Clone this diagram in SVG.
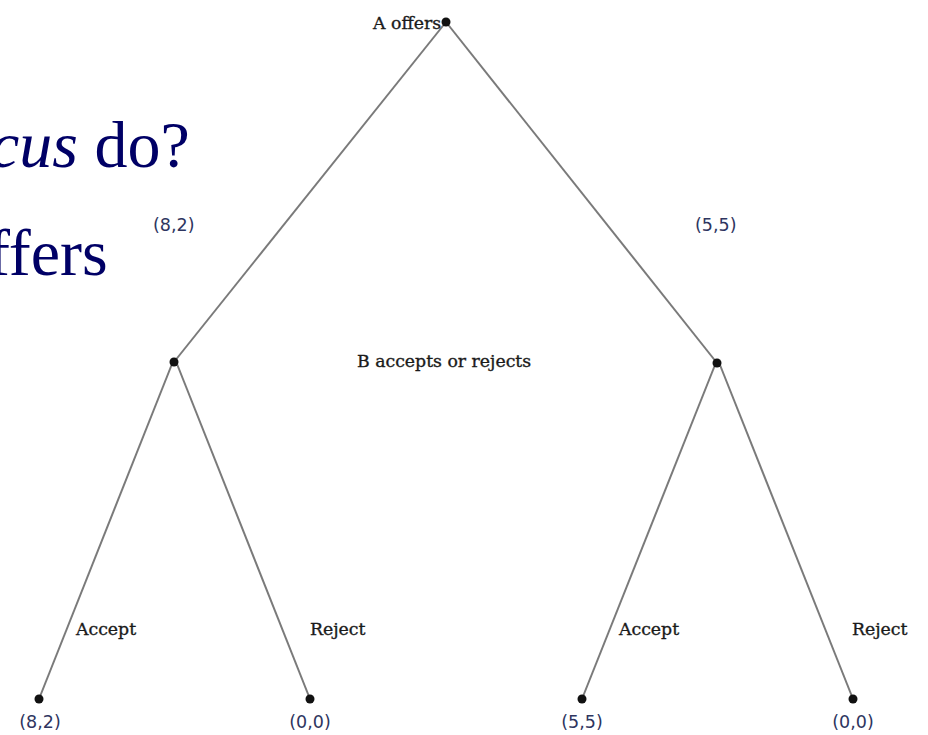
<svg xmlns="http://www.w3.org/2000/svg" width="928" height="735" viewBox="0 0 928 735">
<style>
.bg{font-family:"Liberation Serif","Times New Roman",serif;font-size:66px;fill:#000066}
.lbl{font-family:"DejaVu Serif",serif;font-size:17.3px;fill:#1a1a1a;stroke:#1a1a1a;stroke-width:0.35px}
.pay{font-family:"DejaVu Sans",sans-serif;font-size:17.5px;fill:#2e3560}
.edge{stroke:#7a7a7a;stroke-width:2;fill:none}
.dot{fill:#111}
</style>
<rect width="928" height="735" fill="#fff"/>
<text class="bg" x="-10" y="167"><tspan font-style="italic">cus</tspan> do?</text>
<text class="bg" x="-12" y="275">ffers</text>
<g id="connectors">
<line class="edge" x1="446" y1="22" x2="174" y2="362"/>
<line class="edge" x1="446" y1="22" x2="717" y2="363"/>
<line class="edge" x1="172" y1="364" x2="39" y2="699"/>
<line class="edge" x1="177" y1="364" x2="310" y2="699"/>
<line class="edge" x1="715" y1="365" x2="582" y2="699"/>
<line class="edge" x1="720" y1="365" x2="853" y2="699"/>
</g>
<g id="root"><circle class="dot" cx="446" cy="22" r="4.5"/><text class="lbl" x="373" y="29">A offers</text></g>
<g id="midL"><circle class="dot" cx="174" cy="362" r="4.5"/><text class="pay" x="153" y="231">(8,2)</text></g>
<g id="midR"><circle class="dot" cx="717" cy="363" r="4.5"/><text class="pay" x="695" y="231">(5,5)</text></g>
<g id="stage"><text class="lbl" x="357" y="367">B accepts or rejects</text></g>
<g id="leaf1"><circle class="dot" cx="39" cy="699" r="4.5"/><text class="lbl" x="76" y="635">Accept</text><text class="pay" x="40" y="728" text-anchor="middle">(8,2)</text></g>
<g id="leaf2"><circle class="dot" cx="310" cy="699" r="4.5"/><text class="lbl" x="310" y="635">Reject</text><text class="pay" x="310" y="728" text-anchor="middle">(0,0)</text></g>
<g id="leaf3"><circle class="dot" cx="582" cy="699" r="4.5"/><text class="lbl" x="619" y="635">Accept</text><text class="pay" x="582" y="728" text-anchor="middle">(5,5)</text></g>
<g id="leaf4"><circle class="dot" cx="853" cy="699" r="4.5"/><text class="lbl" x="852" y="635">Reject</text><text class="pay" x="853" y="728" text-anchor="middle">(0,0)</text></g>
</svg>
